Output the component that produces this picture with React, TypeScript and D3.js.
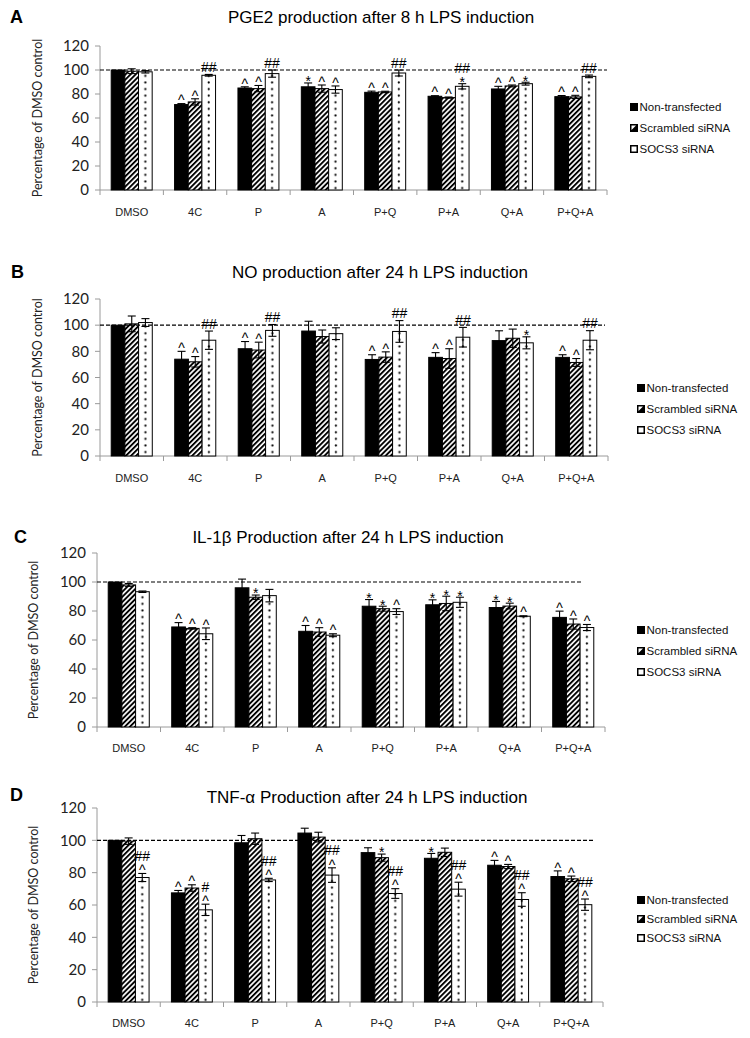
import React from "react";
import * as d3 from "d3";

const categories = ["DMSO", "4C", "P", "A", "P+Q", "P+A", "Q+A", "P+Q+A"];
const seriesNames = ["Non-transfected", "Scrambled siRNA", "SOCS3 siRNA"];
const yTicks = [0, 20, 40, 60, 80, 100, 120];
const referenceLevel = 100;

// A: PGE2
const pgeNon = [100, 71.2, 85, 86, 81.4, 78.1, 84.2, 77.8];
const pgeNonErr = [0, 0.8, 1, 3.2, 1, 0.5, 2.2, 0.9];
const pgeScr = [99, 73.4, 84.5, 84.5, 81.7, 77, 86.7, 77.6];
const pgeScrErr = [2, 2.6, 2.6, 3, 0.6, 0.5, 0.8, 1.3];
const pgeSoc = [98.5, 95.6, 97, 83.7, 97.5, 86.4, 88.6, 94.7];
const pgeSocErr = [1, 0.7, 3, 3, 2.5, 2.2, 1.2, 1.1];
const pgeNonSig = ["", "^", "^", "*", "^", "^", "^", "^"];
const pgeScrSig = ["", "^", "^", "^", "^", "^", "^", "^"];
const pgeSocSig = ["", "##", "##", "^", "##", "*|##", "*", "##"];

// B: NO
const noNon = [100, 74, 82, 95.5, 73.8, 75.4, 88.2, 75.4];
const noNonErr = [0, 6, 5.5, 7.5, 3.6, 3.6, 7.5, 2];
const noScr = [101, 72, 81, 91.3, 75.6, 74.5, 90, 71.5];
const noScrErr = [6, 4, 6, 5, 4, 7.5, 7, 3];
const noSoc = [102, 88.5, 96, 93.5, 95.2, 90.8, 86.5, 88.5];
const noSocErr = [3, 7, 4.5, 4.5, 8.3, 7.5, 4.6, 7.3];
const noNonSig = ["", "^", "^", "", "^", "^", "", "^"];
const noScrSig = ["", "^", "^", "", "^", "^", "", "^"];
const noSocSig = ["", "##", "##", "", "##", "##", "*", "##"];

// C: IL-1β
const ilNon = [100, 69, 96, 66, 83.3, 84.3, 82.4, 75.6];
const ilNonErr = [0, 3, 6, 4, 4.6, 3.4, 4.2, 4.3];
const ilScr = [98, 68, 89.5, 65.5, 81.6, 85.2, 83.4, 71];
const ilScrErr = [1, 0.5, 1.5, 3, 1.7, 5, 2, 3.5];
const ilSoc = [93.3, 64.3, 90.6, 63.3, 79.6, 86, 76.4, 68.6];
const ilSocErr = [0.5, 4, 4.3, 1, 2, 3.5, 0.3, 2.1];
const ilNonSig = ["", "^", "", "^", "*", "*", "*", "^"];
const ilScrSig = ["", "^", "*", "^", "*", "*", "*", "^"];
const ilSocSig = ["", "^", "", "^", "^", "*", "^", "^"];

// D: TNF-α
const tnNon = [100, 67.5, 98.5, 104.5, 92.4, 88.9, 84.6, 77.6];
const tnNonErr = [0, 1.5, 4.5, 3, 3, 3, 3, 3.5];
const tnScr = [99.5, 70.5, 101, 102, 89.3, 92.6, 83.8, 76.2];
const tnScrErr = [2, 2, 3.5, 3, 2.2, 2.6, 1.3, 1.7];
const tnSoc = [77, 57, 75.5, 78.5, 67.1, 69.8, 63.4, 60.2];
const tnSocErr = [2.5, 3.5, 1, 4.5, 3, 4.3, 4.2, 3.5];
const tnNonSig = ["", "^", "", "", "", "*", "^", "^"];
const tnScrSig = ["", "^", "", "", "*", "", "^", "^"];
const tnSocSig = ["^|##", "^|#", "^|##", "^|##", "^|##", "^|##", "^|##", "^|##"];

const panels = [
  {
    letter: "A",
    title: "PGE2 production after 8 h LPS induction",
    values: [pgeNon, pgeScr, pgeSoc],
    errors: [pgeNonErr, pgeScrErr, pgeSocErr],
    sigs: [pgeNonSig, pgeScrSig, pgeSocSig],
    layout: { top: 46, bottom: 190, left: 100, right: 607, letterX: 10, letterY: 23, titleX: 381, titleY: 23, catY: 216, legendX: 630, legendY: [107, 128, 149], yLabelX: 42, dashEnd: 607 },
  },
  {
    letter: "B",
    title: "NO production after 24 h LPS induction",
    values: [noNon, noScr, noSoc],
    errors: [noNonErr, noScrErr, noSocErr],
    sigs: [noNonSig, noScrSig, noSocSig],
    layout: { top: 299, bottom: 456, left: 100, right: 608, letterX: 11, letterY: 278, titleX: 380, titleY: 278, catY: 482, legendX: 637, legendY: [388, 409, 430], yLabelX: 42, dashEnd: 605 },
  },
  {
    letter: "C",
    title: "IL-1\u03b2 Production after 24 h LPS induction",
    values: [ilNon, ilScr, ilSoc],
    errors: [ilNonErr, ilScrErr, ilSocErr],
    sigs: [ilNonSig, ilScrSig, ilSocSig],
    layout: { top: 553, bottom: 727, left: 97, right: 605, letterX: 14, letterY: 543, titleX: 348, titleY: 543, catY: 752, legendX: 637, legendY: [630, 651, 672], yLabelX: 38, dashEnd: 583 },
  },
  {
    letter: "D",
    title: "TNF-\u03b1 Production after 24 h LPS induction",
    values: [tnNon, tnScr, tnSoc],
    errors: [tnNonErr, tnScrErr, tnSocErr],
    sigs: [tnNonSig, tnScrSig, tnSocSig],
    layout: { top: 808, bottom: 1002, left: 97, right: 603, letterX: 10, letterY: 801, titleX: 367, titleY: 803, catY: 1027, legendX: 637, legendY: [900, 919, 938], yLabelX: 38, dashEnd: 593 },
  },
];

const ARIAL = "'Liberation Sans', Arial, sans-serif";
const CAL = "Lato, 'Open Sans', sans-serif";
const AXIS = "#9a9a9a";

function symbolBaseline(sym: string, bottom: number, fs: number) {
  // baseline y so the glyph's visible bottom sits at `bottom`
  if (sym.startsWith("#")) return bottom;
  if (sym === "*") return bottom + 0.42 * fs;
  return bottom + 0.3 * fs; // ^
}
function symbolHeight(sym: string, fs: number) {
  if (sym.startsWith("#")) return 0.72 * fs;
  if (sym === "*") return 0.3 * fs;
  return 0.42 * fs;
}

function Panel({ p, idx }: { p: any; idx: number }) {
  const L = p.layout;
  const y = d3.scaleLinear().domain([0, 120]).range([L.bottom, L.top]);
  const x = d3.scaleBand<string>().domain(categories).range([L.left, L.right]).paddingInner(0).paddingOuter(0);
  const xs = d3.scaleBand<string>().domain(seriesNames).range([0, x.bandwidth()]).paddingInner(0).paddingOuter(0.82);
  const bw = xs.bandwidth();
  const dotId = `dots${idx}`;
  const fills = ["#000", "url(#stripes)", `url(#${dotId})`];
  const socX = (xs(seriesNames[2]) as number) + bw / 2;
  const annFs = 14;

  return (
    <g>
      <defs>
        <pattern id={dotId} patternUnits="userSpaceOnUse" x={L.left} y={0} width={x.bandwidth()} height={6.6}>
          <rect width={x.bandwidth()} height={6.6} fill="#fff" />
          <circle cx={socX} cy={3.3} r={1.1} fill="#000" />
        </pattern>
      </defs>
      <text x={L.letterX} y={L.letterY} fontFamily={ARIAL} fontWeight="bold" fontSize={18} fill="#000">{p.letter}</text>
      <text x={L.titleX} y={L.titleY} fontFamily={ARIAL} fontSize={17} textAnchor="middle" fill="#000">{p.title}</text>

      {/* y axis */}
      <line x1={L.left} x2={L.left} y1={y(0)} y2={y(120)} stroke={AXIS} strokeWidth={1} />
      {yTicks.map((t) => (
        <g key={t}>
          <line x1={L.left - 5} x2={L.left} y1={y(t)} y2={y(t)} stroke={AXIS} />
          <text x={L.left - 11} y={y(t)} dy="0.35em" textAnchor="end" fontFamily={CAL} fontSize={15} fill="#222">{t}</text>
        </g>
      ))}
      <text transform={`translate(${L.yLabelX},${(y(0) + y(120)) / 2}) rotate(-90)`} textAnchor="middle" fontFamily={CAL} fontSize={12.5} fill="#222">
        Percentage of DMSO control
      </text>

      {/* x axis */}
      <line x1={L.left} x2={L.right} y1={y(0)} y2={y(0)} stroke={AXIS} />
      {d3.range(categories.length + 1).map((i) => {
        const xx = L.left + i * x.bandwidth();
        return <line key={i} x1={xx} x2={xx} y1={y(0)} y2={y(0) + 5} stroke={AXIS} />;
      })}
      {categories.map((c) => (
        <text key={c} x={(x(c) as number) + x.bandwidth() / 2} y={L.catY} textAnchor="middle" fontFamily={ARIAL} fontSize={11} fill="#222">{c}</text>
      ))}

      {/* bars */}
      {seriesNames.map((s, si) =>
        categories.map((c, ci) => {
          const v = p.values[si][ci];
          const bx = (x(c) as number) + (xs(s) as number);
          return <rect key={s + c} x={bx} y={y(v)} width={bw} height={y(0) - y(v)} fill={fills[si]} stroke="#000" strokeWidth={1} />;
        })
      )}

      {/* dashed reference */}
      <line x1={L.left} x2={L.dashEnd} y1={y(referenceLevel)} y2={y(referenceLevel)} stroke="#000" strokeWidth={1.1} strokeDasharray="4,2" />

      {/* error bars */}
      {seriesNames.map((s, si) =>
        categories.map((c, ci) => {
          const v = p.values[si][ci];
          const e = p.errors[si][ci];
          if (!e) return null;
          const cx = (x(c) as number) + (xs(s) as number) + bw / 2;
          return (
            <g key={"e" + s + c} stroke="#000" strokeWidth={1.1}>
              <line x1={cx} x2={cx} y1={y(v - e)} y2={y(v + e)} />
              <line x1={cx - 4} x2={cx + 4} y1={y(v + e)} y2={y(v + e)} />
              <line x1={cx - 4} x2={cx + 4} y1={y(v - e)} y2={y(v - e)} />
            </g>
          );
        })
      )}

      {/* significance marks */}
      {seriesNames.map((s, si) =>
        categories.map((c, ci) => {
          const sig = p.sigs[si][ci];
          if (!sig) return null;
          const v = p.values[si][ci];
          const e = p.errors[si][ci];
          const cx = (x(c) as number) + (xs(s) as number) + bw / 2;
          let bottom = y(v + e) - 2.5;
          const parts = sig.split("|");
          return (
            <g key={"s" + s + c}>
              {parts.map((sym: string, k: number) => {
                const base = symbolBaseline(sym, bottom, annFs);
                bottom = bottom - symbolHeight(sym, annFs) - 4;
                return (
                  <text key={k} x={cx} y={base} textAnchor="middle" fontFamily={ARIAL} fontSize={annFs} fill="#000">{sym}</text>
                );
              })}
            </g>
          );
        })
      )}

      {/* legend */}
      {seriesNames.map((s, si) => {
        const ly = L.legendY[si];
        const sx = L.legendX;
        const sz = 8;
        return (
          <g key={"l" + s}>
            {si === 0 && <rect x={sx} y={ly - sz / 2} width={sz} height={sz} fill="#000" />}
            {si === 1 && (
              <g>
                <rect x={sx} y={ly - sz / 2} width={sz} height={sz} fill="#000" />
                <path d={`M${sx + 1.5},${ly - sz / 2 + 1.5} L${sx + sz - 2},${ly - sz / 2 + 1.5} L${sx + 1.5},${ly + sz / 2 - 2} Z`} fill="#fff" />
              </g>
            )}
            {si === 2 && <rect x={sx + 0.75} y={ly - sz / 2 + 0.75} width={sz - 1.5} height={sz - 1.5} fill="#fff" stroke="#000" strokeWidth={1.5} />}
            <text x={sx + sz + 1.5} y={ly} dy="0.36em" fontFamily={ARIAL} fontSize={11.5} fill="#111">{s}</text>
          </g>
        );
      })}
    </g>
  );
}

export default function App() {
  return (
    <svg width={750} height={1038} style={{ position: "absolute", left: 0, top: 0, background: "#fff" }}>
      <defs>
        <pattern id="stripes" patternUnits="userSpaceOnUse" width={3.6} height={3.6} patternTransform="rotate(45)">
          <rect width={3.6} height={3.6} fill="#fff" />
          <rect width={1.9} height={3.6} fill="#000" />
        </pattern>
      </defs>
      <rect width={750} height={1038} fill="#fff" />
      {panels.map((p, i) => (
        <Panel key={p.letter} p={p} idx={i} />
      ))}
    </svg>
  );
}
